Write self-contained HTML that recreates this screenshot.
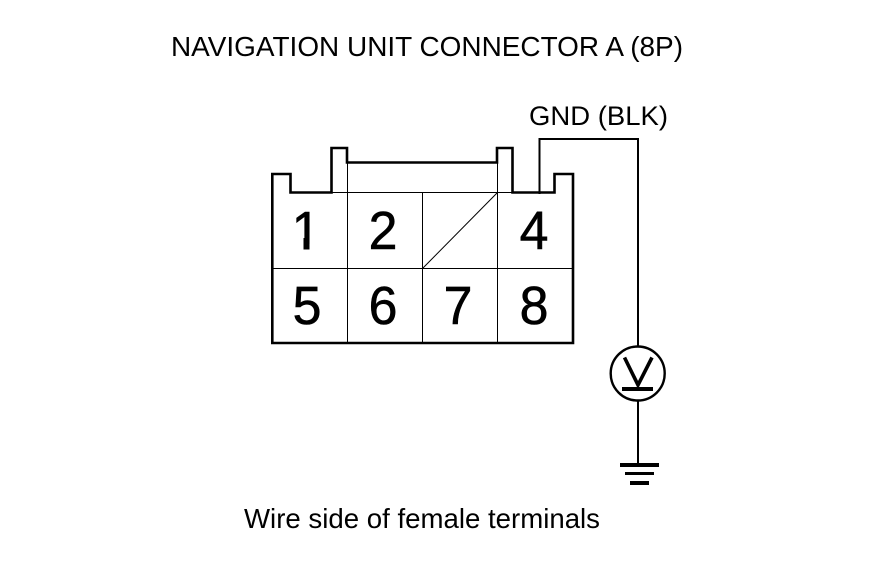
<!DOCTYPE html>
<html>
<head>
<meta charset="utf-8">
<style>
html,body{margin:0;padding:0;background:#fff;width:880px;height:578px;overflow:hidden}
svg{display:block}
text{font-family:"Liberation Sans",Arial,sans-serif;fill:#000}
</style>
</head>
<body>
<svg width="880" height="578" viewBox="0 0 880 578" xmlns="http://www.w3.org/2000/svg">
<rect width="880" height="578" fill="#fff"/>
<text x="171" y="56" font-size="28" textLength="512" lengthAdjust="spacingAndGlyphs">NAVIGATION UNIT CONNECTOR A (8P)</text>
<text x="529" y="125" font-size="27" textLength="139" lengthAdjust="spacingAndGlyphs">GND (BLK)</text>
<text x="244" y="528" font-size="28" textLength="356" lengthAdjust="spacingAndGlyphs">Wire side of female terminals</text>

<g fill="none" stroke="#000" stroke-width="1">
<path d="M347.5 163V343M422.5 192V343M497.5 163V343M331 192.5H513M272 268.5H573"/>
<path d="M422.5 268.5L497.5 192.5"/>
</g>
<path fill="none" stroke="#000" stroke-width="2.6" stroke-linejoin="miter" d="M272.3 343V174H290.5V192.5H331.5V148H347V162.5H497V148H512.5V192.5H554.5V174H573V343Z"/>
<path fill="none" stroke="#000" stroke-width="2" d="M539.5 194V139H638V347"/>
<path fill="none" stroke="#000" stroke-width="2" d="M638 400V465"/>
<circle cx="637.7" cy="373.5" r="27" fill="none" stroke="#000" stroke-width="2.4"/>
<path fill="none" stroke="#000" stroke-width="3.6" d="M624.5 357.5L638 385L652 357.5"/>
<rect x="622" y="387" width="31" height="4" fill="#000"/>
<rect x="620" y="463" width="39" height="4" fill="#000"/>
<rect x="625" y="472" width="29" height="3" fill="#000"/>
<rect x="630" y="481" width="19" height="4" fill="#000"/>

<g font-size="54" text-anchor="middle" stroke="#000" stroke-width="0.6">
<text transform="translate(306 249) scale(.96 1)">1</text>
<text transform="translate(383 249) scale(.96 1)">2</text>
<text transform="translate(534 249) scale(.96 1)">4</text>
<text transform="translate(307 324) scale(.96 1)">5</text>
<text transform="translate(383 324) scale(.96 1)">6</text>
<text transform="translate(458 324) scale(.96 1)">7</text>
<text transform="translate(534 324) scale(.96 1)">8</text>
</g>
<rect x="285" y="244" width="18.5" height="8" fill="#fff"/>
<rect x="309.5" y="244" width="14" height="8" fill="#fff"/>
<rect x="303.5" y="238" width="6" height="11.5" fill="#000"/>
</svg>
</body>
</html>
